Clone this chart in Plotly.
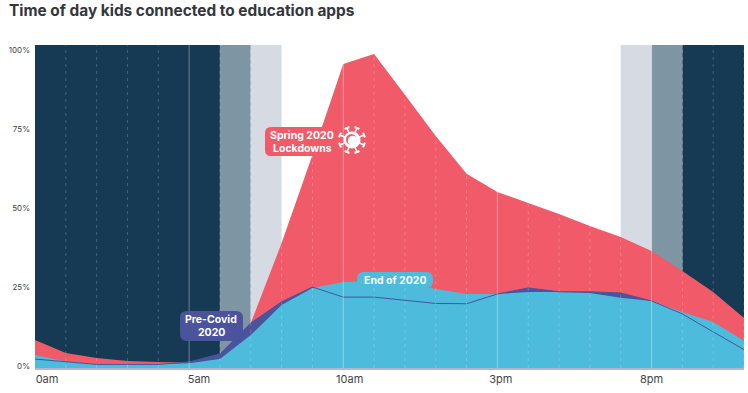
import math
import plotly.graph_objects as go

hours = list(range(24))
spring_2020 = [8.2, 4.1, 2.5, 1.6, 1.3, 1.1, 3.8, 13.6, 38.9, 66.8, 95.6, 98.7, 85.8, 72.8, 60.8, 55.1, 51.6, 48.1, 44.3, 40.8, 36.4, 30.1, 23.4, 15.2]
pre_covid = [2.2, 1.3, 0.5, 0.5, 0.5, 1.3, 3.8, 13.6, 20.3, 25.0, 21.8, 21.8, 20.9, 19.8, 19.7, 22.8, 24.7, 23.5, 23.5, 23.1, 20.6, 16.5, 10.8, 5.2]
end_2020 = [3.5, 1.4, 0.6, 0.6, 0.6, 0.9, 2.2, 9.8, 19.3, 24.7, 26.6, 26.8, 26.3, 24.4, 22.8, 22.8, 23.4, 23.4, 23.1, 21.6, 20.6, 17.1, 13.9, 8.0]
x_tick_pos = [0.39, 5.32, 10.21, 15.11, 20]
x_tick_text = ["0am", "5am", "10am", "3pm", "8pm"]
y_tick_pos = [0, 25, 50, 75, 100]
y_tick_text = ["0%", "25%", "50%", "75%", "100%"]
bands = [(0, 6, "#163a54"), (6, 7, "#7e96a3"), (7, 8, "#d6dbe3"), (19, 20, "#d6dbe3"), (20, 21, "#7e96a3"), (21, 23, "#163a54")]
major_hours = [5, 10, 15, 20]

W, H = 748, 393
L, R, T, B = 35, 744, 45, 368
Y_MIN, Y_MAX = -0.63, 101.58
FONT = "Inter"
RED, PURPLE, BLUE = "#f15b69", "#4a539c", "#4dbcdc"

def px(x):
    return (x - L) / (R - L)

def py(y):
    return (B - y) / (B - T)

def rrect(x0, y0, x1, y1, r, color):
    p = (f"M{px(x0 + r)},{py(y0)} L{px(x1 - r)},{py(y0)} Q{px(x1)},{py(y0)} {px(x1)},{py(y0 + r)} "
         f"L{px(x1)},{py(y1 - r)} Q{px(x1)},{py(y1)} {px(x1 - r)},{py(y1)} L{px(x0 + r)},{py(y1)} "
         f"Q{px(x0)},{py(y1)} {px(x0)},{py(y1 - r)} L{px(x0)},{py(y0 + r)} Q{px(x0)},{py(y0)} {px(x0 + r)},{py(y0)} Z")
    return dict(type="path", xref="paper", yref="paper", path=p, fillcolor=color, line_width=0, layer="above")

fig = go.Figure()
for vals, col in [(spring_2020, RED), (pre_covid, PURPLE), (end_2020, BLUE)]:
    fig.add_trace(go.Scatter(x=hours, y=vals, mode="lines", fill="tozeroy", fillcolor=col,
                             line=dict(width=0, color=col), hoverinfo="skip", showlegend=False))
fig.add_trace(go.Scatter(x=hours, y=pre_covid, mode="lines", line=dict(width=1, color=PURPLE),
                         hoverinfo="skip", showlegend=False))

shapes = []
for a, b, c in bands:
    shapes.append(dict(type="rect", xref="x", yref="paper", x0=a, x1=b, y0=0, y1=1,
                       fillcolor=c, line_width=0, layer="below"))
# the fills stop at zero; the blue runs on to the axis line
shapes.append(dict(type="rect", xref="x", yref="y", x0=0, x1=23, y0=Y_MIN, y1=0.1,
                   fillcolor=BLUE, line_width=0, layer="above"))
for h in hours[1:]:
    major = h in major_hours
    shapes.append(dict(type="line", xref="x", yref="paper", x0=h, x1=h, y0=0, y1=1, layer="above",
                       line=dict(color="rgba(255,255,255,0.36)" if major else "rgba(255,255,255,0.2)",
                                 width=1, dash="solid" if major else "3px,4px")))

shapes.append(rrect(265, 127, 338, 156, 6, RED))
shapes.append(rrect(180, 311, 243, 341, 7, PURPLE))
shapes.append(rrect(357, 272, 433, 288, 7, BLUE))

# virus icon
cx, cy = 352, 140
def circ(x, y, r, color):
    return dict(type="circle", xref="paper", yref="paper", x0=px(x - r), x1=px(x + r),
                y0=py(y + r), y1=py(y - r), fillcolor=color, line_width=0, layer="above")
for i in range(8):
    a = math.radians(45 * i + 22.5)
    shapes.append(dict(type="line", xref="paper", yref="paper", x0=px(cx), y0=py(cy),
                       x1=px(cx + 12.5 * math.cos(a)), y1=py(cy + 12.5 * math.sin(a)),
                       line=dict(color="white", width=1.6), layer="above"))
    bx, by = cx + 13 * math.cos(a), cy + 13 * math.sin(a)
    tx, ty = -math.sin(a) * 2.6, math.cos(a) * 2.6
    shapes.append(dict(type="line", xref="paper", yref="paper", x0=px(bx - tx), y0=py(by - ty),
                       x1=px(bx + tx), y1=py(by + ty), line=dict(color="white", width=2), layer="above"))
shapes.append(circ(cx, cy, 8.5, "white"))
shapes.append(circ(cx - 0.6, cy - 0.6, 5.4, RED))
shapes.append(circ(cx + 0.8, cy + 0.8, 5.0, "white"))

def note(x, y, text, size=10.5, color="white", weight=700, anchor="center"):
    return dict(xref="paper", yref="paper", x=px(x), y=py(y), text=text, showarrow=False, xanchor=anchor,
                yanchor="middle", font=dict(family=FONT, size=size, color=color, weight=weight),
                borderpad=0)

annotations = [
    note(302, 135, "Spring 2020"), note(302, 148, "Lockdowns"),
    note(211, 319, "Pre-Covid"), note(211, 332, "2020"),
    note(395, 280, "End of 2020"),
    note(8, 10, "Time of day kids connected to education apps", size=15.4, color="#33363b", anchor="left"),
]

fig.update_layout(
    width=W, height=H, autosize=False,
    margin=dict(l=L, r=W - R, t=T, b=H - B),
    paper_bgcolor="white", plot_bgcolor="white", showlegend=False,
    shapes=shapes, annotations=annotations,
    font=dict(family=FONT, size=10, color="#444444"),
    xaxis=dict(range=[0, 23], tickvals=x_tick_pos, ticktext=x_tick_text, showgrid=False, zeroline=False,
               ticks="", showline=True, linecolor="#b5b5d0", linewidth=1.5, tickfont=dict(size=11)),
    yaxis=dict(range=[Y_MIN, Y_MAX], tickvals=y_tick_pos, ticktext=y_tick_text, showgrid=False, zeroline=False,
               ticks="", showline=False, tickfont=dict(size=8), ticklabelstandoff=4),
)
fig.write_html("out.html", config={"displayModeBar": False}, post_script="document.body.style.margin='0';")
